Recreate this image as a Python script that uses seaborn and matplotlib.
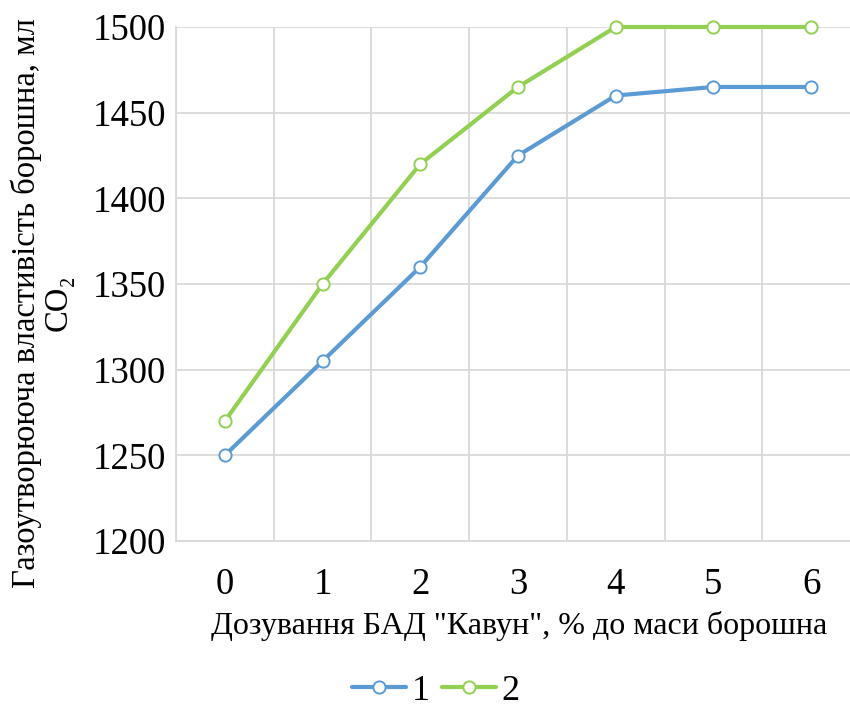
import matplotlib
matplotlib.use("Agg")
import matplotlib.pyplot as plt
import seaborn as sns
import pandas as pd
from matplotlib.ticker import MultipleLocator
from matplotlib.lines import Line2D

dosage = [0, 1, 2, 3, 4, 5, 6]
series1 = [1250, 1305, 1360, 1425, 1460, 1465, 1465]
series2 = [1270, 1350, 1420, 1465, 1500, 1500, 1500]
series_names = ["1", "2"]
colors = ["#5b9bd5", "#92d050"]

df = pd.DataFrame({
    "x": dosage * 2,
    "y": series1 + series2,
    "s": [series_names[0]] * len(dosage) + [series_names[1]] * len(dosage),
})

FAM = ['Liberation Serif', 'DejaVu Serif']
sns.set_theme(style="white")
plt.rcParams['font.family'] = FAM
plt.rcParams['text.color'] = 'black'
plt.rcParams['axes.labelcolor'] = 'black'

fig = plt.figure(figsize=(8.5, 7.08), dpi=100)
ax = fig.add_axes([176/850, 1 - 541/708, 684/850, (541 - 27)/708])

sns.lineplot(data=df, x="x", y="y", hue="s", palette=colors, ax=ax,
             linewidth=3, marker="o", markersize=8.8, markerfacecolor="white",
             markeredgewidth=1.4, clip_on=False, zorder=3, legend=False)
for line, c in zip(ax.get_lines(), colors):
    line.set_markeredgecolor(c)

ax.set_xlim(-0.5, 6.5)
ax.set_ylim(1200, 1500)
ax.yaxis.set_major_locator(MultipleLocator(50))
ax.set_xticks(dosage)
ax.set_xticklabels([str(d) for d in dosage])
ax.set_xticks([i + 0.5 for i in range(-1, 7)], minor=True)
ax.grid(False)
ax.grid(True, which="major", axis="y", color="#d9d9d9", linewidth=1.3)
ax.grid(True, which="minor", axis="x", color="#d9d9d9", linewidth=1.3)
for side in ["top", "right"]:
    ax.spines[side].set_visible(False)
for side in ["left", "bottom"]:
    ax.spines[side].set_color("#d9d9d9")
    ax.spines[side].set_linewidth(1.3)
ax.tick_params(axis="both", which="both", length=0, labelsize=26.5, colors="black")
ax.tick_params(axis="x", pad=19)
ax.tick_params(axis="y", pad=7)
for t in ax.get_xticklabels() + ax.get_yticklabels():
    t.set_fontfamily(FAM)

ax.set_xlabel('Дозування БАД "Кавун", % до маси борошна', fontsize=23, family=FAM,
              color="black")
ax.set_ylabel("Газоутворююча властивість борошна, мл\nCO₂", fontsize=23.5,
              linespacing=1.05, family=FAM, color="black")
ax.xaxis.set_label_coords((519 - 176)/684, 1 - (626 - 27)/514)
ax.xaxis.label.set_va("center")
ax.yaxis.set_label_coords((42 - 176)/684, 1 - (303 - 27)/514)
ax.yaxis.label.set_va("center")

handles = [Line2D([], [], color=c, linewidth=3, marker="o", markersize=8.8,
                  markerfacecolor="white", markeredgecolor=c, markeredgewidth=1.4)
           for c in colors]
leg = fig.legend(handles, series_names, loc="center", bbox_to_anchor=(436/850, 1 - 691/708),
                 ncol=2, frameon=False, prop={"family": FAM, "size": 26},
                 handlelength=1.5, columnspacing=0.35, handletextpad=0.15)
for t in leg.get_texts():
    t.set_color("black")

fig.savefig("out.png", dpi=100)
